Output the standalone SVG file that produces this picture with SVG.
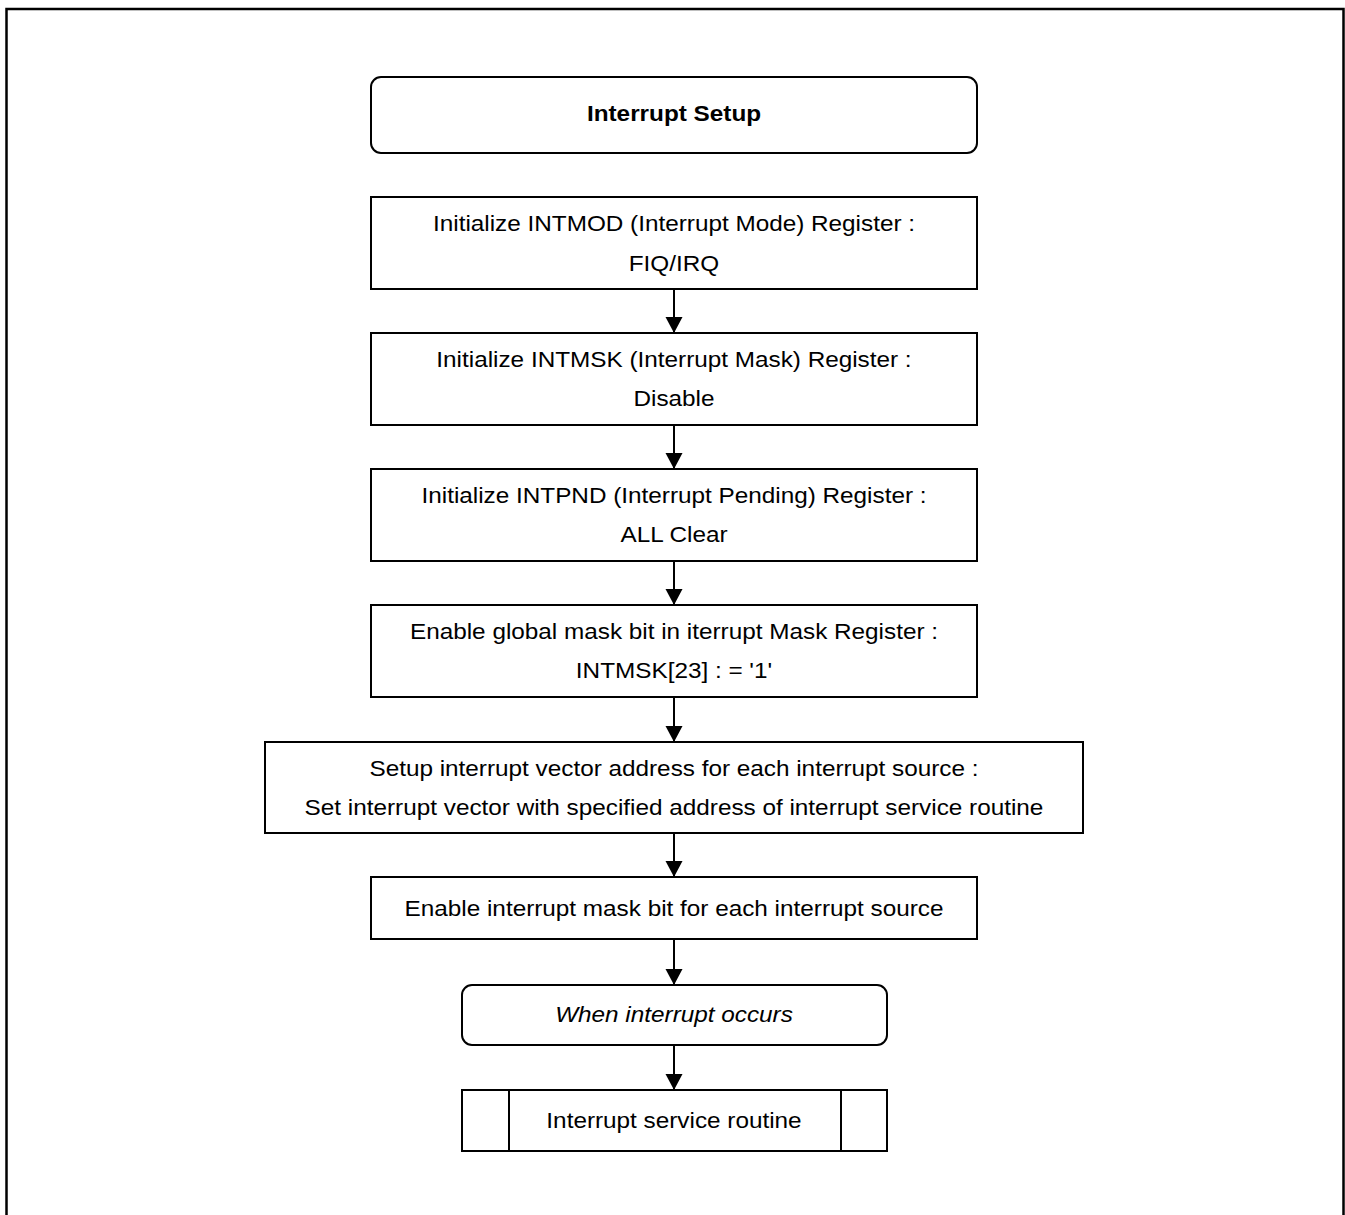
<svg xmlns="http://www.w3.org/2000/svg" width="1345" height="1215" viewBox="0 0 1345 1215">
  <style>
    .box { fill: #fff; stroke: #000; stroke-width: 2; }
    .t { font-family: "Liberation Sans", Arial, sans-serif; font-size: 22px; fill: #000; text-anchor: middle; }
    .b { font-weight: bold; }
    .i { font-style: italic; }
    .conn { stroke: #000; stroke-width: 2; fill: none; }
  </style>
  <defs>
    <marker id="arrow" markerUnits="userSpaceOnUse" markerWidth="18" markerHeight="18" refX="16" refY="8.5" orient="auto">
      <path d="M0,0 L16,8.5 L0,17 Z" fill="#000"/>
    </marker>
  </defs>

  <!-- page frame -->
  <path d="M6.5,1216 V9 H1343.5 V1216" fill="none" stroke="#000" stroke-width="2.5"/>

  <!-- labels are slightly widened about the centre line x=674 -->
  <g id="start">
    <rect class="box" x="371" y="77" width="606" height="76" rx="10"/>
    <text class="t b" x="674" y="121" transform="matrix(1.105 0 0 1 -70.77 0)">Interrupt Setup</text>
  </g>

  <g id="init-intmod">
    <rect class="box" x="371" y="197" width="606" height="92"/>
    <text class="t" x="674" y="231" transform="matrix(1.105 0 0 1 -70.77 0)">Initialize INTMOD (Interrupt Mode) Register :</text>
    <text class="t" x="674" y="271" transform="matrix(1.105 0 0 1 -70.77 0)">FIQ/IRQ</text>
  </g>

  <g id="init-intmsk">
    <rect class="box" x="371" y="333" width="606" height="92"/>
    <text class="t" x="674" y="367" transform="matrix(1.105 0 0 1 -70.77 0)">Initialize INTMSK (Interrupt Mask) Register :</text>
    <text class="t" x="674" y="406" transform="matrix(1.105 0 0 1 -70.77 0)">Disable</text>
  </g>

  <g id="init-intpnd">
    <rect class="box" x="371" y="469" width="606" height="92"/>
    <text class="t" x="674" y="503" transform="matrix(1.105 0 0 1 -70.77 0)">Initialize INTPND (Interrupt Pending) Register :</text>
    <text class="t" x="674" y="542" transform="matrix(1.105 0 0 1 -70.77 0)">ALL Clear</text>
  </g>

  <g id="global-mask">
    <rect class="box" x="371" y="605" width="606" height="92"/>
    <text class="t" x="674" y="639" transform="matrix(1.105 0 0 1 -70.77 0)">Enable global mask bit in iterrupt Mask Register :</text>
    <text class="t" x="674" y="678" transform="matrix(1.105 0 0 1 -70.77 0)">INTMSK[23] : = '1'</text>
  </g>

  <g id="vector-setup">
    <rect class="box" x="265" y="742" width="818" height="91"/>
    <text class="t" x="674" y="776" transform="matrix(1.105 0 0 1 -70.77 0)">Setup interrupt vector address for each interrupt source :</text>
    <text class="t" x="674" y="815" transform="matrix(1.105 0 0 1 -70.77 0)">Set interrupt vector with specified address of interrupt service routine</text>
  </g>

  <g id="source-mask">
    <rect class="box" x="371" y="877" width="606" height="62"/>
    <text class="t" x="674" y="916" transform="matrix(1.105 0 0 1 -70.77 0)">Enable interrupt mask bit for each interrupt source</text>
  </g>

  <g id="occurs">
    <rect class="box" x="462" y="985" width="425" height="60" rx="10"/>
    <text class="t i" x="674" y="1022" transform="matrix(1.105 0 0 1 -70.77 0)">When interrupt occurs</text>
  </g>

  <g id="isr">
    <rect class="box" x="462" y="1090" width="425" height="61"/>
    <line class="conn" x1="509" y1="1090" x2="509" y2="1151"/>
    <line class="conn" x1="841" y1="1090" x2="841" y2="1151"/>
    <text class="t" x="674" y="1128" transform="matrix(1.105 0 0 1 -70.77 0)">Interrupt service routine</text>
  </g>

  <g id="connectors">
    <line class="conn" x1="674" y1="289" x2="674" y2="333" marker-end="url(#arrow)"/>
    <line class="conn" x1="674" y1="425" x2="674" y2="469" marker-end="url(#arrow)"/>
    <line class="conn" x1="674" y1="561" x2="674" y2="605" marker-end="url(#arrow)"/>
    <line class="conn" x1="674" y1="697" x2="674" y2="742" marker-end="url(#arrow)"/>
    <line class="conn" x1="674" y1="833" x2="674" y2="877" marker-end="url(#arrow)"/>
    <line class="conn" x1="674" y1="939" x2="674" y2="985" marker-end="url(#arrow)"/>
    <line class="conn" x1="674" y1="1045" x2="674" y2="1090" marker-end="url(#arrow)"/>
  </g>
</svg>
